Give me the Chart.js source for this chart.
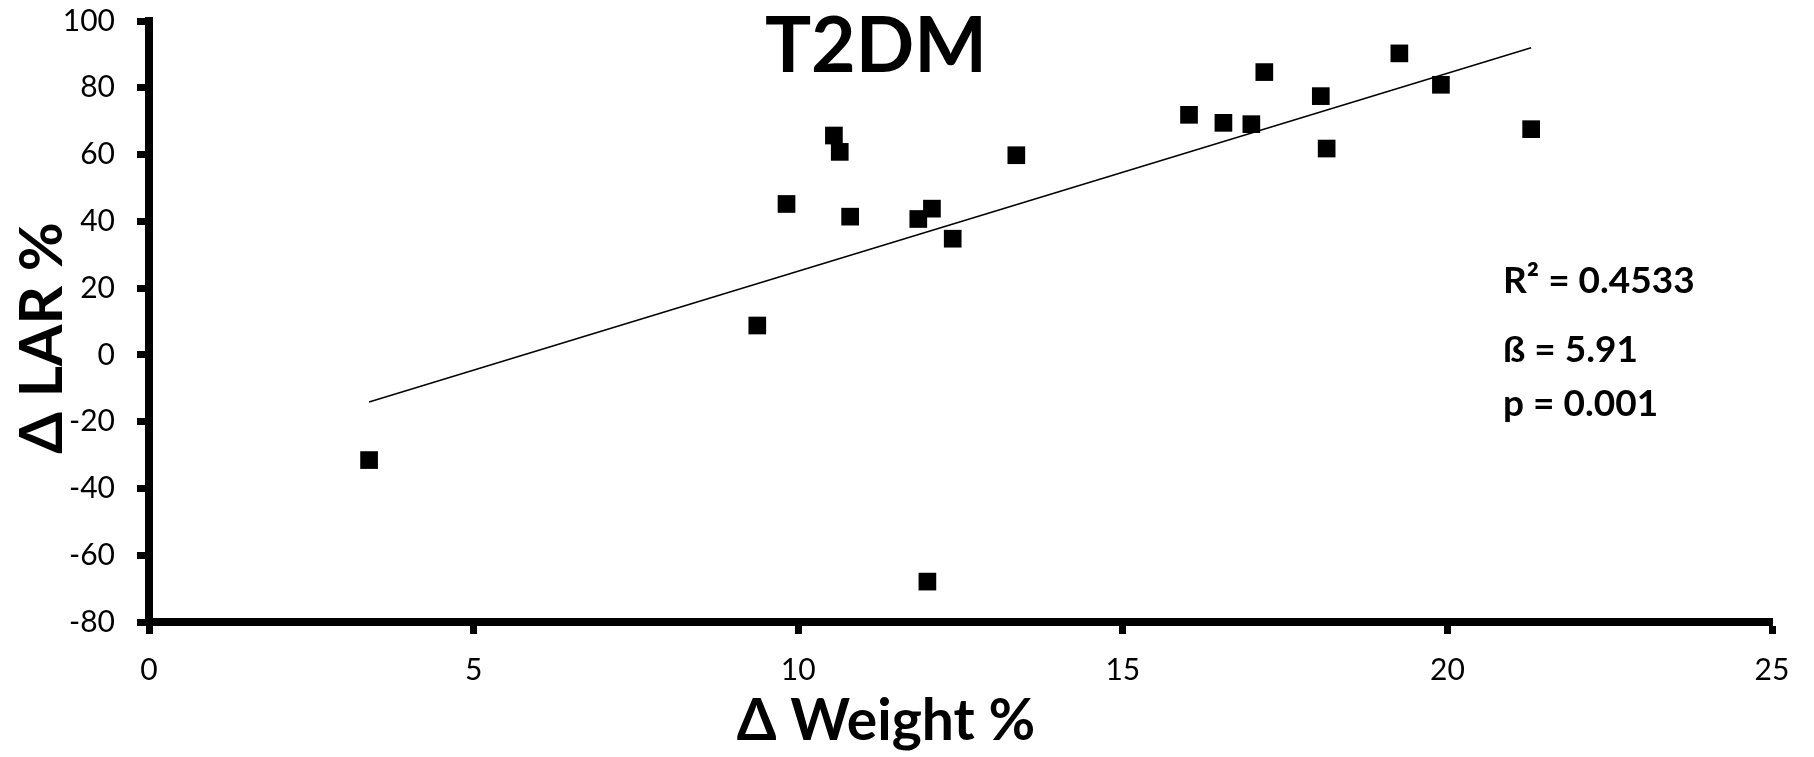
<!DOCTYPE html>
<html>
<head>
<meta charset="utf-8">
<script src="https://cdn.jsdelivr.net/npm/chart.js@4.4.0/dist/chart.umd.min.js"></script>
<style>
  html, body { margin: 0; padding: 0; background: #fff; }
  #wrap { width: 1814px; height: 757px; position: relative; }
</style>
</head>
<body>
<div id="wrap"><canvas id="myChart" width="1814" height="757"></canvas></div>
<script>
// values
var weightChange = [3.39, 9.37, 9.82, 10.55, 10.64, 10.80, 11.85, 11.99, 12.06, 12.38,
                    13.36, 16.02, 16.55, 16.98, 17.18, 18.05, 18.14, 19.26, 19.90, 21.29]
var larChange = [-31.5, 8.8, 45.2, 65.7, 60.8, 41.4, 40.7, -67.9, 43.8, 34.8,
                 59.8, 71.9, 69.5, 69.1, 84.7, 77.5, 61.8, 90.3, 80.9, 67.6]
// trendline ends
var trendX = [3.39, 21.29]
var trendY = [-14.1, 92.0]

var xTicks = [0, 5, 10, 15, 20, 25]
var yTicks = [-80, -60, -40, -20, 0, 20, 40, 60, 80, 100]

var chartTitle = 'T2DM'
var xTitle = '\u0394 Weight %'
var yTitle = '\u0394 LAR %'
var statLines = ['R\u00B2 = 0.4533', '\u00DF = 5.91', 'p = 0.001']

var FONT = 'Lato, "Open Sans", sans-serif'

function toPoints(xs, ys) {
    var pts = []
    for (let i = 0; i < xs.length; i++) {
        pts.push({ x: xs[i], y: ys[i] })
    }
    return pts
}

// titles + stats text drawn by hand so they sit where the original has them
var textPlugin = {
    id: 'texts',
    afterDraw: function (chart) {
        var ctx = chart.ctx
        ctx.save()
        ctx.fillStyle = '#000'
        ctx.textBaseline = 'alphabetic'

        ctx.font = 'bold 77px ' + FONT
        ctx.textAlign = 'center'
        ctx.fillText(chartTitle, 876, 72)

        ctx.font = 'bold 57px ' + FONT
        ctx.fillText(xTitle, 886, 740)

        ctx.save()
        ctx.translate(62, 338)
        ctx.rotate(-Math.PI / 2)
        ctx.font = 'bold 60px ' + FONT
        ctx.fillText(yTitle, 0, 0)
        ctx.restore()

        ctx.font = 'bold 37px ' + FONT
        ctx.textAlign = 'left'
        ctx.fillText(statLines[0], 1503, 293)
        ctx.fillText(statLines[1], 1503, 362)
        ctx.fillText(statLines[2], 1503, 416)
        ctx.restore()
    }
}

function $id(id) { return document.getElementById(id) }
var ctx = $id('myChart').getContext('2d')

var myChart = new Chart(ctx, {
    type: 'scatter',
    data: {
        datasets: [{
            label: 'LAR',
            data: toPoints(weightChange, larChange),
            pointStyle: 'rect',
            pointRadius: 12.5,
            pointHoverRadius: 12.5,
            backgroundColor: '#000',
            borderColor: '#000',
            borderWidth: 0
        }, {
            label: 'trend',
            type: 'line',
            data: toPoints(trendX, trendY),
            borderColor: '#000',
            borderWidth: 1.5,
            pointRadius: 0,
            fill: false
        }]
    },
    options: {
        responsive: false,
        animation: false,
        layout: { padding: { top: 21, right: 42, left: 0, bottom: 0 } },
        plugins: {
            legend: { display: false },
            tooltip: { enabled: false }
        },
        scales: {
            x: {
                type: 'linear',
                min: 0,
                max: 25,
                afterFit: function (scale) {
                    scale.height = 135
                    scale.paddingLeft = 0
                    scale.paddingRight = 0
                },
                afterBuildTicks: function (scale) {
                    scale.ticks = xTicks.map(function (v) { return { value: v } })
                },
                border: { display: true, color: '#000', width: 8 },
                grid: {
                    drawOnChartArea: false,
                    drawTicks: true,
                    tickLength: 12,
                    tickWidth: 7,
                    tickColor: '#000'
                },
                ticks: {
                    color: '#000',
                    padding: 18,
                    font: { family: FONT, size: 30 }
                }
            },
            y: {
                type: 'linear',
                min: -80,
                max: 100,
                afterFit: function (scale) {
                    scale.width = 149
                    scale.paddingTop = 0
                    scale.paddingBottom = 0
                },
                afterBuildTicks: function (scale) {
                    scale.ticks = yTicks.map(function (v) { return { value: v } })
                },
                border: { display: true, color: '#000', width: 8 },
                grid: {
                    drawOnChartArea: false,
                    drawTicks: true,
                    tickLength: 12,
                    tickWidth: 7,
                    tickColor: '#000'
                },
                ticks: {
                    color: '#000',
                    padding: 22,
                    font: { family: FONT, size: 30 }
                }
            }
        }
    },
    plugins: [textPlugin]
})
</script>
</body>
</html>
